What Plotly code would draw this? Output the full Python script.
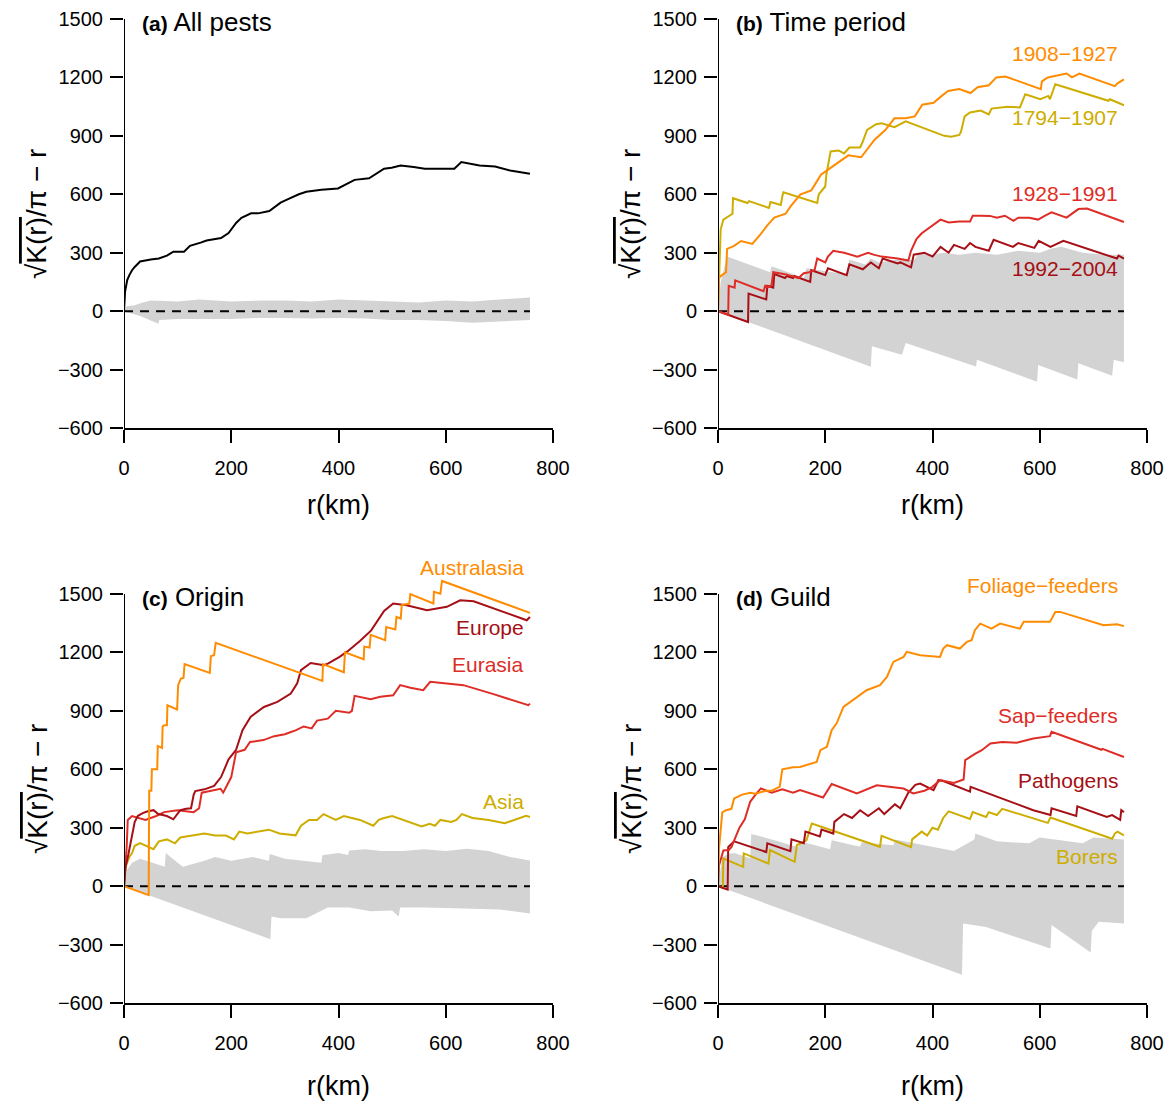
import plotly.graph_objects as go

# ---------------- data ----------------
# (a) All pests
A_R = [0, 1, 2, 4, 6, 10, 15, 20, 30, 50, 65, 80, 92, 112, 123, 143, 154, 181, 195, 209, 219, 237, 250, 271, 292, 306, 326, 340, 368, 399, 416, 430, 457, 485, 499, 516, 540, 561, 616, 629, 663, 692, 720, 757]
A_V = [0, 60, 100, 130, 160, 185, 210, 227, 255, 265, 270, 285, 305, 305, 335, 352, 363, 375, 401, 453, 479, 502, 502, 514, 557, 575, 600, 613, 623, 630, 653, 674, 682, 731, 736, 748, 740, 731, 731, 766, 748, 743, 722, 705]
A_UP_R = [0, 5, 20, 35, 50, 80, 100, 140, 170, 200, 260, 300, 350, 400, 450, 500, 550, 600, 650, 700, 757]
A_UP_V = [0, 25, 30, 45, 55, 50, 50, 60, 55, 50, 55, 55, 50, 60, 55, 50, 45, 55, 50, 60, 70]
A_LO_R = [0, 30, 64, 66, 100, 150, 200, 250, 300, 350, 400, 450, 500, 550, 600, 650, 700, 757]
A_LO_V = [0, -25, -65, -45, -40, -40, -40, -35, -35, -38, -35, -38, -45, -45, -50, -60, -55, -45]

# (b) Time period
B1_R = [0, 2, 5, 15, 17, 30, 43, 64, 78, 92, 105, 126, 136, 154, 174, 192, 202, 223, 243, 267, 278, 292, 312, 329, 350, 367, 381, 402, 415, 429, 450, 471, 484, 505, 519, 536, 602, 604, 615, 630, 650, 660, 674, 740, 745, 757]
B1_V = [0, 170, 180, 200, 320, 335, 360, 345, 390, 440, 480, 500, 540, 600, 620, 700, 720, 760, 800, 790, 830, 880, 930, 990, 990, 1000, 1060, 1070, 1100, 1130, 1140, 1120, 1150, 1160, 1200, 1205, 1140, 1180, 1200, 1210, 1220, 1200, 1220, 1155, 1170, 1190]
B2_R = [0, 3, 5, 10, 20, 27, 28, 55, 58, 95, 98, 117, 120, 122, 185, 188, 200, 202, 210, 225, 235, 245, 265, 270, 278, 295, 305, 329, 350, 422, 435, 450, 453, 460, 470, 490, 505, 510, 540, 563, 573, 601, 616, 619, 629, 728, 731, 757]
B2_V = [0, 300, 420, 470, 490, 500, 580, 555, 565, 530, 560, 545, 590, 610, 555, 600, 640, 700, 820, 825, 810, 840, 840, 870, 930, 960, 965, 945, 975, 900, 895, 905, 920, 1000, 1020, 1030, 1010, 1040, 1050, 1046, 1114, 1088, 1105, 1088, 1165, 1080, 1088, 1057]
B3_R = [0, 19, 20, 31, 32, 85, 88, 95, 100, 103, 125, 150, 160, 170, 180, 185, 200, 205, 215, 235, 260, 280, 290, 305, 335, 355, 360, 370, 380, 395, 415, 430, 450, 470, 475, 490, 507, 520, 535, 551, 560, 580, 597, 610, 622, 650, 660, 672, 688, 757]
B3_V = [0, -19, 130, 120, 158, 102, 130, 125, 135, 200, 190, 170, 195, 200, 210, 270, 250, 280, 310, 300, 280, 300, 290, 280, 270, 260, 310, 370, 400, 430, 470, 455, 460, 460, 490, 490, 489, 480, 490, 464, 480, 480, 470, 490, 507, 480, 500, 524, 527, 458]
B4_R = [0, 56, 57, 90, 92, 103, 105, 125, 128, 140, 142, 172, 174, 200, 205, 240, 245, 270, 285, 300, 307, 335, 340, 360, 365, 385, 400, 415, 430, 440, 460, 470, 480, 505, 514, 530, 550, 560, 590, 598, 620, 644, 744, 747, 757]
B4_V = [0, -56, 90, 60, 130, 120, 190, 170, 180, 170, 180, 150, 210, 185, 220, 185, 240, 215, 250, 220, 270, 245, 250, 225, 290, 300, 280, 330, 300, 340, 320, 350, 330, 310, 366, 350, 330, 350, 325, 361, 330, 361, 270, 285, 270]
B_UP_R = [0, 5, 17, 97, 100, 160, 165, 240, 245, 275, 285, 300, 345, 365, 375, 400, 420, 450, 480, 520, 540, 560, 600, 620, 640, 680, 720, 757]
B_UP_V = [0, 150, 280, 200, 230, 170, 220, 190, 265, 240, 270, 250, 270, 260, 300, 290, 300, 290, 300, 290, 300, 310, 300, 320, 330, 300, 290, 290]
B_LO_R = [0, 285, 287, 343, 350, 481, 483, 595, 597, 670, 672, 735, 738, 757]
B_LO_V = [0, -285, -180, -224, -163, -284, -250, -362, -276, -351, -267, -332, -250, -262]

# (c) Origin
C_AUS_R = [0, 46, 47, 51, 52, 62, 63, 71, 72, 75, 80, 81, 99, 101, 106, 111, 113, 160, 162, 168, 171, 370, 371, 410, 412, 447, 448, 458, 460, 487, 489, 506, 508, 516, 518, 532, 534, 577, 578, 590, 593, 757]
C_AUS_V = [0, -46, 490, 490, 600, 600, 720, 710, 820, 826, 826, 929, 907, 1032, 1066, 1069, 1140, 1095, 1181, 1186, 1249, 1054, 1140, 1098, 1200, 1165, 1230, 1225, 1290, 1263, 1331, 1318, 1382, 1374, 1443, 1451, 1499, 1451, 1511, 1502, 1567, 1403]
C_EUR_R = [0, 3, 8, 16, 20, 26, 35, 43, 55, 64, 80, 92, 105, 116, 125, 130, 133, 150, 168, 181, 195, 209, 221, 236, 261, 286, 311, 323, 330, 348, 373, 381, 402, 416, 440, 461, 485, 502, 527, 565, 602, 627, 652, 751, 757]
C_EUR_V = [0, 100, 161, 270, 330, 361, 375, 383, 390, 370, 360, 343, 390, 397, 400, 470, 488, 497, 515, 560, 651, 700, 801, 869, 920, 946, 989, 1041, 1109, 1146, 1134, 1144, 1177, 1204, 1259, 1313, 1413, 1451, 1442, 1417, 1434, 1468, 1463, 1365, 1382]
C_EURA_R = [0, 5, 7, 15, 40, 60, 75, 100, 130, 140, 145, 160, 180, 185, 200, 209, 225, 235, 260, 280, 300, 310, 320, 335, 350, 360, 380, 395, 420, 425, 430, 460, 478, 502, 515, 534, 558, 571, 608, 633, 689, 754, 757]
C_EURA_V = [0, 200, 340, 360, 340, 360, 380, 390, 380, 400, 480, 490, 500, 480, 560, 687, 700, 740, 750, 770, 780, 790, 800, 820, 810, 850, 860, 900, 890, 900, 977, 960, 972, 980, 1032, 1019, 1006, 1049, 1040, 1032, 986, 929, 937]
C_ASIA_R = [0, 3, 10, 15, 20, 30, 55, 65, 80, 95, 105, 130, 150, 170, 190, 205, 215, 230, 250, 270, 290, 320, 330, 345, 360, 372, 395, 410, 440, 465, 475, 485, 500, 520, 540, 555, 570, 580, 590, 610, 620, 630, 650, 680, 710, 730, 750, 757]
C_ASIA_V = [0, 100, 150, 170, 207, 221, 190, 230, 240, 220, 250, 260, 270, 260, 260, 240, 280, 270, 280, 290, 270, 261, 310, 340, 340, 370, 340, 360, 340, 310, 340, 350, 360, 340, 320, 306, 320, 310, 340, 330, 340, 370, 350, 340, 323, 340, 361, 355]
C_UP_R = [0, 5, 15, 30, 76, 78, 100, 110, 150, 170, 200, 240, 270, 272, 300, 330, 368, 370, 400, 418, 420, 450, 480, 520, 560, 600, 640, 680, 720, 757]
C_UP_V = [0, 80, 120, 140, 100, 170, 120, 100, 130, 150, 130, 150, 130, 165, 140, 130, 120, 158, 170, 160, 183, 190, 180, 180, 190, 180, 192, 180, 150, 132]
C_LO_R = [0, 273, 275, 292, 340, 354, 380, 420, 460, 500, 512, 515, 560, 600, 650, 700, 757]
C_LO_V = [0, -273, -156, -165, -165, -147, -110, -110, -129, -125, -156, -110, -110, -112, -115, -120, -140]

# (d) Guild
D_FOL_R = [0, 2, 8, 15, 25, 30, 45, 60, 70, 90, 100, 115, 120, 140, 153, 184, 191, 203, 212, 221, 234, 252, 277, 302, 315, 327, 346, 352, 377, 414, 420, 427, 451, 464, 473, 479, 489, 510, 526, 563, 570, 619, 629, 638, 669, 719, 744, 757]
D_FOL_V = [0, 198, 379, 390, 397, 450, 470, 480, 475, 490, 490, 510, 600, 610, 612, 638, 698, 715, 801, 835, 920, 955, 1006, 1032, 1074, 1151, 1177, 1203, 1186, 1177, 1220, 1237, 1220, 1254, 1263, 1314, 1348, 1322, 1348, 1322, 1357, 1357, 1408, 1408, 1382, 1340, 1345, 1335]
D_SAP_R = [0, 2, 10, 20, 25, 35, 40, 50, 60, 70, 80, 100, 120, 140, 153, 196, 212, 259, 296, 346, 364, 385, 400, 414, 440, 458, 461, 480, 492, 508, 530, 557, 588, 619, 622, 715, 717, 757]
D_SAP_V = [0, 107, 183, 185, 200, 270, 300, 343, 433, 470, 502, 480, 497, 480, 493, 455, 524, 476, 518, 501, 476, 490, 510, 544, 530, 548, 647, 680, 698, 732, 740, 736, 758, 770, 792, 700, 705, 663]
D_PAT_R = [0, 18, 19, 30, 90, 92, 135, 137, 160, 163, 190, 193, 215, 217, 235, 250, 265, 280, 300, 310, 330, 340, 355, 368, 377, 402, 411, 420, 470, 471, 588, 620, 622, 650, 668, 670, 725, 735, 750, 752, 757]
D_PAT_V = [0, -18, 200, 230, 175, 220, 180, 240, 220, 280, 255, 290, 270, 330, 370, 350, 390, 360, 400, 370, 420, 400, 480, 520, 527, 493, 544, 540, 485, 510, 390, 365, 400, 375, 360, 410, 355, 365, 340, 390, 380]
D_BOR_R = [0, 9, 10, 47, 48, 94, 97, 143, 147, 165, 175, 302, 305, 360, 362, 380, 390, 400, 410, 420, 430, 470, 475, 500, 505, 520, 530, 615, 620, 735, 740, 745, 757]
D_BOR_V = [0, -9, 142, 99, 168, 116, 185, 125, 210, 236, 322, 202, 258, 200, 240, 280, 260, 300, 290, 350, 384, 345, 380, 355, 380, 365, 397, 325, 352, 243, 270, 280, 261]
D_UP_R = [0, 8, 20, 30, 60, 62, 100, 150, 153, 209, 212, 265, 268, 327, 330, 400, 440, 478, 480, 520, 580, 600, 680, 700, 757]
D_UP_V = [0, 150, 165, 170, 143, 268, 240, 200, 230, 190, 236, 202, 225, 210, 240, 200, 180, 240, 270, 230, 220, 250, 220, 250, 240]
D_LO_R = [0, 455, 457, 480, 500, 620, 622, 695, 697, 710, 757]
D_LO_V = [0, -455, -192, -201, -210, -320, -200, -341, -230, -183, -192]

ZERO_R = [0, 757]
ZERO_V = [0, 0]

X_TICKS = [0, 200, 400, 600, 800]
Y_TICKS = [-600, -300, 0, 300, 600, 900, 1200, 1500]
X_RANGE = [0, 800]
Y_RANGE = [-600, 1500]

PANEL_TITLES = [("(a)", "All pests"), ("(b)", "Time period"), ("(c)", "Origin"), ("(d)", "Guild")]
LABELS_B = ["1908\u22121927", "1794\u22121907", "1928\u22121991", "1992\u22122004"]
LABELS_C = ["Australasia", "Europe", "Eurasia", "Asia"]
LABELS_D = ["Foliage\u2212feeders", "Sap\u2212feeders", "Pathogens", "Borers"]
LABEL_Y_B = [1324, 996, 606, 221]
LABEL_Y_C = [1638, 1330, 1140, 436]
LABEL_Y_D = [1545, 878, 544, 154]

# ---------------- styling ----------------
W, H = 1169, 1105
FONT = "Liberation Sans, Arial, sans-serif"
ORANGE = "#FF8C00"
YELLOW = "#CDAD00"
RED = "#DE2D26"
DARKRED = "#A50F15"
GRAY = "#D3D3D3"

# pixel boxes of the -600..1500 / 0..800 area (left, right, top, bottom)
BOX = {"a": (124, 553, 19, 428), "b": (718, 1147, 19, 428),
       "c": (124, 553, 594, 1003), "d": (718, 1147, 594, 1003)}
# extra y room above 1500 (lines in the lower panels overshoot the axis top)
HEADROOM = {"a": 0, "b": 0, "c": 100, "d": 100}
AX = {"a": ("x", "y"), "b": ("x2", "y2"), "c": ("x3", "y3"), "d": ("x4", "y4")}
PXU = (428 - 19) / (Y_RANGE[1] - Y_RANGE[0])  # pixels per y unit


def px2paper(px, py):
    return px / W, 1 - py / H


def to_paper(p, r, v):
    l, rr, t, b = BOX[p]
    px = l + (r - X_RANGE[0]) / (X_RANGE[1] - X_RANGE[0]) * (rr - l)
    py = b - (v - Y_RANGE[0]) / (Y_RANGE[1] - Y_RANGE[0]) * (b - t)
    return px2paper(px, py)


fig = go.Figure()


def band(p, ur, uv, lr, lv):
    xa, ya = AX[p]
    fig.add_trace(go.Scatter(x=ur + lr[::-1], y=uv + lv[::-1], mode="lines", fill="toself",
                             fillcolor=GRAY, line=dict(width=0, color=GRAY),
                             xaxis=xa, yaxis=ya, hoverinfo="skip", showlegend=False))


def zero(p):
    xa, ya = AX[p]
    fig.add_trace(go.Scatter(x=ZERO_R, y=ZERO_V, mode="lines",
                             line=dict(color="black", width=2, dash="9px,7px"),
                             xaxis=xa, yaxis=ya, hoverinfo="skip", showlegend=False))


def line(p, r, v, color):
    assert len(r) == len(v)
    xa, ya = AX[p]
    fig.add_trace(go.Scatter(x=r, y=v, mode="lines", line=dict(color=color, width=2),
                             xaxis=xa, yaxis=ya, showlegend=False))


band("a", A_UP_R, A_UP_V, A_LO_R, A_LO_V)
zero("a")
line("a", A_R, A_V, "black")

band("b", B_UP_R, B_UP_V, B_LO_R, B_LO_V)
zero("b")
line("b", B4_R, B4_V, DARKRED)
line("b", B3_R, B3_V, RED)
line("b", B2_R, B2_V, YELLOW)
line("b", B1_R, B1_V, ORANGE)

band("c", C_UP_R, C_UP_V, C_LO_R, C_LO_V)
zero("c")
line("c", C_ASIA_R, C_ASIA_V, YELLOW)
line("c", C_EURA_R, C_EURA_V, RED)
line("c", C_EUR_R, C_EUR_V, DARKRED)
line("c", C_AUS_R, C_AUS_V, ORANGE)

band("d", D_UP_R, D_UP_V, D_LO_R, D_LO_V)
zero("d")
line("d", D_BOR_R, D_BOR_V, YELLOW)
line("d", D_PAT_R, D_PAT_V, DARKRED)
line("d", D_SAP_R, D_SAP_V, RED)
line("d", D_FOL_R, D_FOL_V, ORANGE)

# ---------------- axes ----------------
common_x = dict(range=X_RANGE, tickvals=X_TICKS, showgrid=False, zeroline=False,
                showline=True, linecolor="black", linewidth=2, ticks="outside",
                ticklen=13, tickwidth=2, tickcolor="black", ticklabelstandoff=8,
                automargin=False,
                tickfont=dict(family=FONT, size=20, color="black"), fixedrange=True)
common_y = dict(tickvals=Y_TICKS, showgrid=False, zeroline=False, showline=False,
                ticks="outside", ticklen=13, tickwidth=2, tickcolor="black",
                ticklabelstandoff=3, automargin=False,
                tickfont=dict(family=FONT, size=20, color="black"), fixedrange=True)

layout = dict(width=W, height=H, margin=dict(l=0, r=0, t=0, b=0, autoexpand=False),
              paper_bgcolor="white", plot_bgcolor="white", showlegend=False)
shapes = []
for i, p in enumerate("abcd", start=1):
    sx = "" if i == 1 else str(i)
    l, rr, t, b = BOX[p]
    hr = HEADROOM[p]
    x0, y0 = px2paper(l, b)
    x1, y1 = px2paper(rr, t - hr * PXU)
    layout["xaxis" + sx] = dict(common_x, domain=[x0, x1], anchor="y" + sx)
    layout["yaxis" + sx] = dict(common_y, domain=[y0, min(1.0, y1)], anchor="x" + sx,
                                range=[Y_RANGE[0], Y_RANGE[1] + hr])
    # y-axis line drawn only from -600 to 1500 (as in the reference)
    shapes.append(dict(type="line", xref="x" + sx, yref="y" + sx, x0=0, x1=0,
                       y0=Y_RANGE[0], y1=Y_RANGE[1], line=dict(color="black", width=2)))
layout["shapes"] = shapes
fig.update_layout(**layout)

# ---------------- text ----------------
ann = []
YTITLE = '\u221A<span style="text-decoration:overline">K(r)</span>/\u03C0 \u2212 r'
for (px, py) in [(37, 214), (631, 214), (37, 789), (631, 789)]:
    xp, yp = px2paper(px, py)
    ann.append(dict(x=xp, y=yp, xref="paper", yref="paper", text=YTITLE,
                    textangle=-90, showarrow=False, xanchor="center", yanchor="middle",
                    font=dict(family=FONT, size=28, color="black")))
for (px, py) in [(338, 505), (932, 505), (338, 1086), (932, 1086)]:
    xp, yp = px2paper(px, py)
    ann.append(dict(x=xp, y=yp, xref="paper", yref="paper", text="r(km)",
                    showarrow=False, xanchor="center", yanchor="middle",
                    font=dict(family=FONT, size=27, color="black")))
for p, (tag, name) in zip("abcd", PANEL_TITLES):
    xp, yp = to_paper(p, 29, 1485)
    ann.append(dict(x=xp, y=yp, xref="paper", yref="paper",
                    text='<span style="font-size:21px"><b>%s</b></span> %s' % (tag, name),
                    showarrow=False, xanchor="left", yanchor="middle",
                    font=dict(family=FONT, size=26, color="black")))
for labels, ys, p, cols in [(LABELS_B, LABEL_Y_B, "b", [ORANGE, YELLOW, RED, DARKRED]),
                             (LABELS_C, LABEL_Y_C, "c", [ORANGE, DARKRED, RED, YELLOW]),
                             (LABELS_D, LABEL_Y_D, "d", [ORANGE, RED, DARKRED, YELLOW])]:
    for t, yv, c in zip(labels, ys, cols):
        xp, yp = to_paper(p, 750, yv)
        ann.append(dict(x=xp, y=yp, xref="paper", yref="paper", text=t, showarrow=False,
                        xanchor="right", yanchor="middle",
                        font=dict(family=FONT, size=21, color=c)))
fig.update_layout(annotations=ann)

# remove the browser's default page margin so the figure fills the window exactly
fig.write_html("out.html", config={"displayModeBar": False},
               post_script="document.body.style.margin='0px';document.body.style.overflow='hidden';")
